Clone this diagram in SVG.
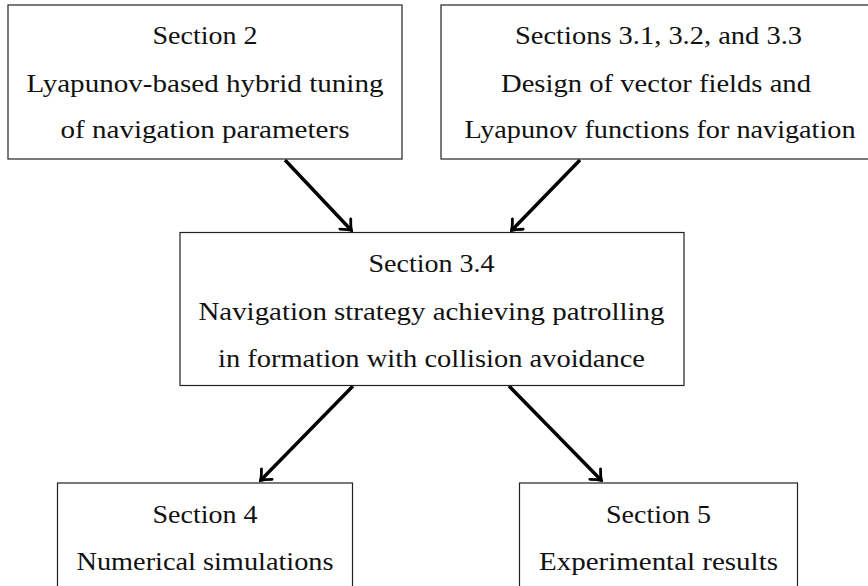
<svg xmlns="http://www.w3.org/2000/svg" width="868" height="586" viewBox="0 0 868 586">
  <style>
    .box { fill: #ffffff; stroke: #222222; stroke-width: 1.2; }
    .lbl { font-family: "Liberation Serif", "DejaVu Serif", serif; font-size: 25px; fill: #111111; text-anchor: middle; }
    .edge { fill: none; stroke: #000000; stroke-width: 3.4; marker-end: url(#head); }
  </style>
  <defs>
    <!-- curved two-barb arrow tip -->
    <marker id="head" viewBox="-12 -9 14 18" refX="0" refY="0" markerWidth="14" markerHeight="18" markerUnits="userSpaceOnUse" orient="auto">
      <path d="M-9,-7.5 Q-3,-1.5 0,0 Q-3,1.5 -9,7.5" fill="none" stroke="#000000" stroke-width="2.8" stroke-linecap="round"/>
    </marker>
  </defs>
  <rect width="868" height="586" fill="#ffffff"/>

  <g id="connectors">
    <path class="edge" d="M285,160 L351.5,230.5"/>
    <path class="edge" d="M580,160 L511.5,230.5"/>
    <path class="edge" d="M353,386 L260.5,480.5"/>
    <path class="edge" d="M509,386 L601.5,480.5"/>
  </g>

  <g id="sec2">
    <rect class="box" x="8" y="5" width="394" height="154"/>
    <text class="lbl" x="205" y="43.5" textLength="105" lengthAdjust="spacingAndGlyphs">Section 2</text>
    <text class="lbl" x="205" y="91.7" textLength="357" lengthAdjust="spacingAndGlyphs">Lyapunov-based hybrid tuning</text>
    <text class="lbl" x="205" y="137.7" textLength="289" lengthAdjust="spacingAndGlyphs">of navigation parameters</text>
  </g>

  <g id="sec31">
    <rect class="box" x="441" y="5" width="435" height="154"/>
    <text class="lbl" x="658.5" y="43.5" textLength="287" lengthAdjust="spacingAndGlyphs">Sections 3.1, 3.2, and 3.3</text>
    <text class="lbl" x="656" y="91.7" textLength="310" lengthAdjust="spacingAndGlyphs">Design of vector fields and</text>
    <text class="lbl" x="660" y="137.7" textLength="391" lengthAdjust="spacingAndGlyphs">Lyapunov functions for navigation</text>
  </g>

  <g id="sec34">
    <rect class="box" x="180" y="232.5" width="504" height="153"/>
    <text class="lbl" x="431.5" y="271.7" textLength="126" lengthAdjust="spacingAndGlyphs">Section 3.4</text>
    <text class="lbl" x="431.5" y="320" textLength="466" lengthAdjust="spacingAndGlyphs">Navigation strategy achieving patrolling</text>
    <text class="lbl" x="431.5" y="366.7" textLength="427" lengthAdjust="spacingAndGlyphs">in formation with collision avoidance</text>
  </g>

  <g id="sec4">
    <rect class="box" x="57.5" y="483" width="295" height="120"/>
    <text class="lbl" x="205" y="522.7" textLength="105" lengthAdjust="spacingAndGlyphs">Section 4</text>
    <text class="lbl" x="205" y="570" textLength="257" lengthAdjust="spacingAndGlyphs">Numerical simulations</text>
  </g>

  <g id="sec5">
    <rect class="box" x="519.5" y="483" width="278" height="120"/>
    <text class="lbl" x="658.5" y="522.7" textLength="105" lengthAdjust="spacingAndGlyphs">Section 5</text>
    <text class="lbl" x="658.5" y="570" textLength="239" lengthAdjust="spacingAndGlyphs">Experimental results</text>
  </g>
</svg>
